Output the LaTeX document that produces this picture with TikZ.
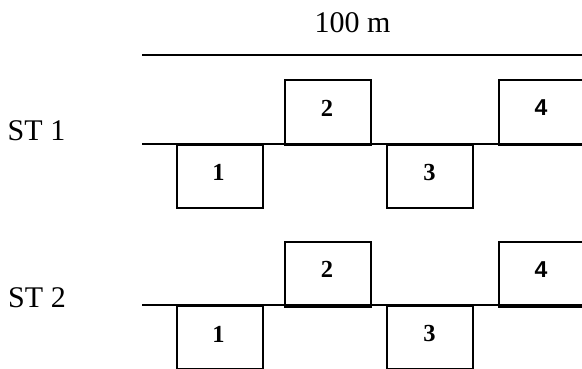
\documentclass[tikz,border=0pt]{standalone}
\usepackage{fontspec}
\setmainfont{Liberation Serif}
\newfontfamily\numsans{Liberation Sans}
\tikzset{
  slot/.style={draw, line width=2pt, rectangle, inner sep=0pt,
               minimum width=86pt, anchor=north west},
  uppers/.style={slot, minimum height=65pt},
  lowers/.style={slot, minimum height=63pt},
  num/.style={font=\fontsize{24.5}{24.5}\selectfont\bfseries, inner sep=0pt},
  numsf/.style={font=\fontsize{23}{23}\selectfont\numsans\bfseries, inner sep=0pt},
  caption/.style={font=\fontsize{30}{30}\selectfont, inner sep=0pt},
  rail/.style={line width=1.6pt},
}
\begin{document}
\begin{tikzpicture}[x=1pt,y=-1pt]
\useasboundingbox (0,0) rectangle (582,369);
\clip (0,0) rectangle (582,369);

% length scale
\node[caption] (len) at (352.5,22.5) {100 m};
\coordinate (scaleL) at (142,55);
\coordinate (scaleR) at (590,55);
\draw[rail] (scaleL) -- (scaleR);

% station 1
\node[caption] (st1) at (36.5,131) {ST 1};
\coordinate (r1L) at (142,144);
\coordinate (r1R) at (590,144);
\draw[rail] (r1L) -- (r1R);
\node[lowers] (a1) at (175.7,144) {};
\node[uppers] (a2) at (283.7,79) {};
\node[lowers] (a3) at (386.3,144) {};
\node[uppers] (a4) at (497.7,79) {};
\node[num]   (a1n) at (218.5,172.5) {1};
\node[num]   (a2n) at (327,108.3) {2};
\node[num]   (a3n) at (429.5,172.5) {3};
\node[numsf] (a4n) at (541,107.5) {4};

% station 2
\node[caption] (st2) at (37,298) {ST 2};
\coordinate (r2L) at (142,305);
\coordinate (r2R) at (590,305);
\draw[rail] (r2L) -- (r2R);
\node[lowers] (b1) at (175.7,305) {};
\node[uppers] (b2) at (283.7,240.7) {};
\node[lowers] (b3) at (386.3,305) {};
\node[uppers] (b4) at (497.7,240.7) {};
\node[num]   (b1n) at (218.5,334) {1};
\node[num]   (b2n) at (327,269.5) {2};
\node[num]   (b3n) at (429.5,334) {3};
\node[numsf] (b4n) at (541,269.5) {4};
\end{tikzpicture}
\end{document}
